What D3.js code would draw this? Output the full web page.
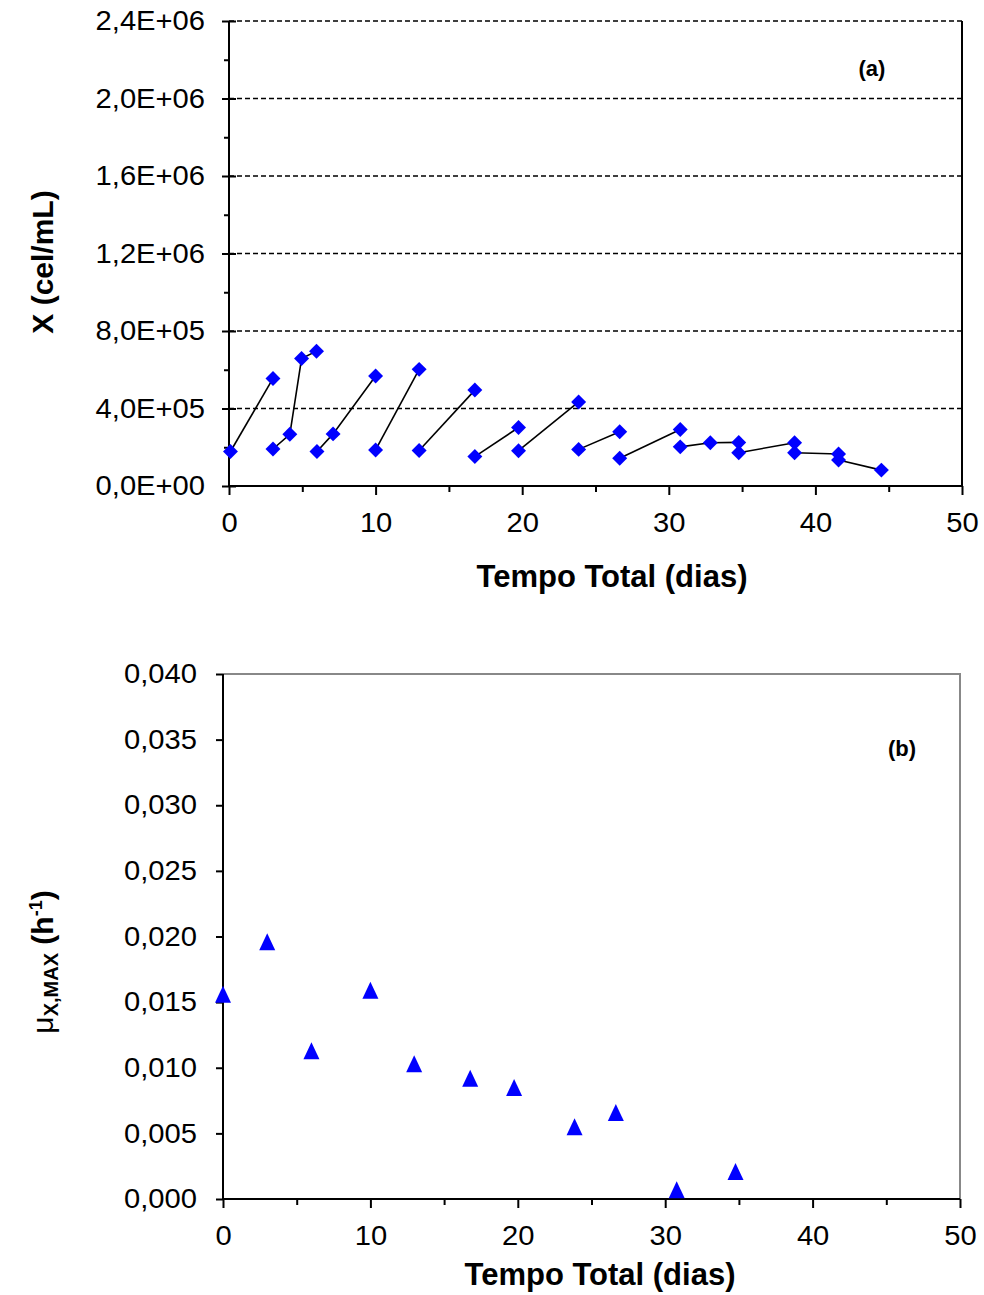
<!DOCTYPE html>
<html>
<head>
<meta charset="utf-8">
<script src="https://cdn.jsdelivr.net/npm/d3@7"></script>
<style>
  body { margin: 0; background: #fff; }
  svg { display: block; font-family: "Liberation Sans", Arial, sans-serif; }
</style>
</head>
<body>
<svg id="chart" width="984" height="1295"></svg>
<script>
// (a) concentracao celular por batelada
const lote = [1, 1, 2, 2, 2, 2, 3, 3, 3, 4, 4, 5, 5, 6, 6, 7, 7, 8, 8, 9, 9, 10, 10, 10, 11, 11, 12, 12, 13, 13];
const tempoX = [0.1, 3.0, 3.0, 4.15, 4.95, 5.97, 6.0, 7.1, 10.0, 10.0, 12.97, 12.97, 16.77, 16.77, 19.75, 19.75, 23.85, 23.85, 26.65, 26.65, 30.78, 30.78, 32.83, 34.77, 34.77, 38.58, 38.58, 41.58, 41.58, 44.5];
const celX = [1.78e5, 5.55e5, 1.91e5, 2.67e5, 6.58e5, 6.96e5, 1.78e5, 2.69e5, 5.68e5, 1.86e5, 6.02e5, 1.83e5, 4.95e5, 1.52e5, 3.02e5, 1.82e5, 4.34e5, 1.89e5, 2.80e5, 1.43e5, 2.92e5, 2.02e5, 2.23e5, 2.25e5, 1.72e5, 2.23e5, 1.72e5, 1.65e5, 1.34e5, 0.82e5];

// (b) velocidade especifica maxima
const tempoMu = [0, 3.0, 6.0, 10.0, 12.97, 16.77, 19.75, 23.85, 26.65, 30.78, 34.77];
const muMax = [0.0156, 0.0196, 0.0113, 0.0159, 0.0103, 0.0092, 0.0085, 0.0055, 0.0066, 0.0007, 0.0021];

const xTicks = [0, 10, 20, 30, 40, 50];
const xMinor = [5, 15, 25, 35, 45];
const yTicksA = [0, 4e5, 8e5, 1.2e6, 1.6e6, 2.0e6, 2.4e6];
const yMinorA = [2e5, 6e5, 1.0e6, 1.4e6, 1.8e6, 2.2e6];
const yTicksB = [0, 0.005, 0.01, 0.015, 0.02, 0.025, 0.03, 0.035, 0.04];

const svg = d3.select("#chart");
const fontTick = 27;
const stretch = 1.08;

const fmtSci = d => {
  const e = d === 0 ? 0 : Math.floor(Math.log10(d) + 1e-9);
  const m = d / Math.pow(10, e);
  return m.toFixed(1).replace(".", ",") + "E+" + String(e).padStart(2, "0");
};
const fmtDec = d => d.toFixed(3).replace(".", ",");

// stretch tick labels a bit horizontally like the excel picture
function widen(sel) {
  sel.selectAll(".tick text").each(function() {
    const w = this.getComputedTextLength();
    d3.select(this).attr("textLength", w * stretch).attr("lengthAdjust", "spacingAndGlyphs");
  });
}

function styleAxis(g, width) {
  g.selectAll("path.domain").remove();
  g.selectAll(".tick line").attr("stroke", "#000").attr("stroke-width", width || 2);
  g.selectAll(".tick text").attr("font-size", fontTick).attr("fill", "#000");
  g.attr("font-family", null);
}

// ---------------- chart (a) ----------------
const xA = d3.scaleLinear().domain([0, 50]).range([229, 962]);
const yA = d3.scaleLinear().domain([0, 2.4e6]).range([486, 21]);

const ga = svg.append("g");

// dashed gridlines
ga.append("g")
  .selectAll("line")
  .data(yTicksA.slice(1))
  .join("line")
  .attr("x1", xA(0))
  .attr("x2", xA(50))
  .attr("y1", d => yA(d))
  .attr("y2", d => yA(d))
  .attr("stroke", "#000")
  .attr("stroke-width", 1.3)
  .attr("stroke-dasharray", "5,3");

// right border
ga.append("line")
  .attr("x1", xA(50)).attr("x2", xA(50))
  .attr("y1", yA(2.4e6)).attr("y2", yA(0))
  .attr("stroke", "#000").attr("stroke-width", 2);

// axes lines
ga.append("line")
  .attr("x1", xA(0)).attr("x2", xA(0))
  .attr("y1", yA(2.4e6)).attr("y2", yA(0))
  .attr("stroke", "#000").attr("stroke-width", 2);
ga.append("line")
  .attr("x1", xA(0)).attr("x2", xA(50))
  .attr("y1", yA(0)).attr("y2", yA(0))
  .attr("stroke", "#000").attr("stroke-width", 2);

const yAxisA = ga.append("g")
  .attr("transform", `translate(${xA(0)},0)`)
  .call(d3.axisLeft(yA).tickValues(yTicksA).tickFormat(fmtSci).tickSize(7).tickPadding(17));
styleAxis(yAxisA);
widen(yAxisA);
// inner part of major ticks
const yAxisAin = ga.append("g")
  .attr("transform", `translate(${xA(0)},0)`)
  .call(d3.axisRight(yA).tickValues(yTicksA).tickFormat("").tickSize(7));
styleAxis(yAxisAin);
const yMinA = ga.append("g")
  .attr("transform", `translate(${xA(0)},0)`)
  .call(d3.axisLeft(yA).tickValues(yMinorA).tickFormat("").tickSize(5));
styleAxis(yMinA);

const xAxisA = ga.append("g")
  .attr("transform", `translate(0,${yA(0)})`)
  .call(d3.axisBottom(xA).tickValues(xTicks).tickFormat(d3.format("d")).tickSize(9).tickPadding(18));
styleAxis(xAxisA);
widen(xAxisA);
const xMinA = ga.append("g")
  .attr("transform", `translate(0,${yA(0)})`)
  .call(d3.axisBottom(xA).tickValues(xMinor).tickFormat("").tickSize(6));
styleAxis(xMinA);

// lines per batch
const pontos = tempoX.map((t, i) => ({ t: t, x: celX[i], lote: lote[i] }));
const lotes = d3.groups(pontos, d => d.lote);
const linha = d3.line().x(d => xA(d.t)).y(d => yA(d.x));
ga.append("g")
  .selectAll("path")
  .data(lotes)
  .join("path")
  .attr("d", d => linha(d[1]))
  .attr("fill", "none")
  .attr("stroke", "#000")
  .attr("stroke-width", 1.6);

// diamonds
ga.append("g")
  .selectAll("path")
  .data(pontos)
  .join("path")
  .attr("d", d3.symbol(d3.symbolSquare, 112))
  .attr("transform", d => `translate(${xA(d.t)},${yA(d.x)}) rotate(45)`)
  .attr("fill", "#0000ff");

ga.append("text")
  .attr("x", 872).attr("y", 76)
  .attr("text-anchor", "middle")
  .attr("font-size", 22).attr("font-weight", "bold")
  .text("(a)");

ga.append("text")
  .attr("x", 612).attr("y", 587)
  .attr("text-anchor", "middle")
  .attr("font-size", 31).attr("font-weight", "bold")
  .text("Tempo Total (dias)");

ga.append("text")
  .attr("transform", "translate(53,262) rotate(-90)")
  .attr("text-anchor", "middle")
  .attr("font-size", 30).attr("font-weight", "bold")
  .text("X (cel/mL)");

// ---------------- chart (b) ----------------
const xB = d3.scaleLinear().domain([0, 50]).range([223, 960]);
const yB = d3.scaleLinear().domain([0, 0.04]).range([1199, 674]);

const gb = svg.append("g");

// gray plot border
gb.append("path")
  .attr("d", `M${xB(0)},${yB(0.04)}H${xB(50)}V${yB(0)}`)
  .attr("fill", "none")
  .attr("stroke", "#888")
  .attr("stroke-width", 2);

gb.append("line")
  .attr("x1", xB(0)).attr("x2", xB(0))
  .attr("y1", yB(0.04)).attr("y2", yB(0))
  .attr("stroke", "#000").attr("stroke-width", 2);
gb.append("line")
  .attr("x1", xB(0)).attr("x2", xB(50))
  .attr("y1", yB(0)).attr("y2", yB(0))
  .attr("stroke", "#000").attr("stroke-width", 2);

const yAxisB = gb.append("g")
  .attr("transform", `translate(${xB(0)},0)`)
  .call(d3.axisLeft(yB).tickValues(yTicksB).tickFormat(fmtDec).tickSize(7).tickPadding(19));
styleAxis(yAxisB);
widen(yAxisB);

const xAxisB = gb.append("g")
  .attr("transform", `translate(0,${yB(0)})`)
  .call(d3.axisBottom(xB).tickValues(xTicks).tickFormat(d3.format("d")).tickSize(9).tickPadding(18));
styleAxis(xAxisB);
widen(xAxisB);
const xMinB = gb.append("g")
  .attr("transform", `translate(0,${yB(0)})`)
  .call(d3.axisBottom(xB).tickValues(xMinor).tickFormat("").tickSize(6));
styleAxis(xMinB);

// excel-like triangle marker (a bit taller than wide)
const triangulo = {
  draw(ctx, size) {
    const w = 8, h = 8.5;
    ctx.moveTo(0, -h);
    ctx.lineTo(w, h);
    ctx.lineTo(-w, h);
    ctx.closePath();
  }
};

gb.append("g")
  .selectAll("path")
  .data(tempoMu.map((t, i) => ({ t: t, mu: muMax[i] })))
  .join("path")
  .attr("d", d3.symbol(triangulo, 1))
  .attr("transform", d => `translate(${xB(d.t)},${yB(d.mu)})`)
  .attr("fill", "#0000ff");

gb.append("text")
  .attr("x", 902).attr("y", 756)
  .attr("text-anchor", "middle")
  .attr("font-size", 22).attr("font-weight", "bold")
  .text("(b)");

gb.append("text")
  .attr("x", 600).attr("y", 1285)
  .attr("text-anchor", "middle")
  .attr("font-size", 31).attr("font-weight", "bold")
  .text("Tempo Total (dias)");

const ty = gb.append("text")
  .attr("transform", "translate(53,962) rotate(-90)")
  .attr("text-anchor", "middle")
  .attr("font-weight", "bold");
ty.append("tspan").attr("font-size", 30).attr("font-weight", "normal").text("μ");
ty.append("tspan").attr("font-size", 20).attr("dy", 5).text("X,MAX");
ty.append("tspan").attr("font-size", 30).attr("dy", -5).text(" (h");
ty.append("tspan").attr("font-size", 18).attr("dy", -11).text("-1");
ty.append("tspan").attr("font-size", 30).attr("dy", 11).text(")");
</script>
</body>
</html>
